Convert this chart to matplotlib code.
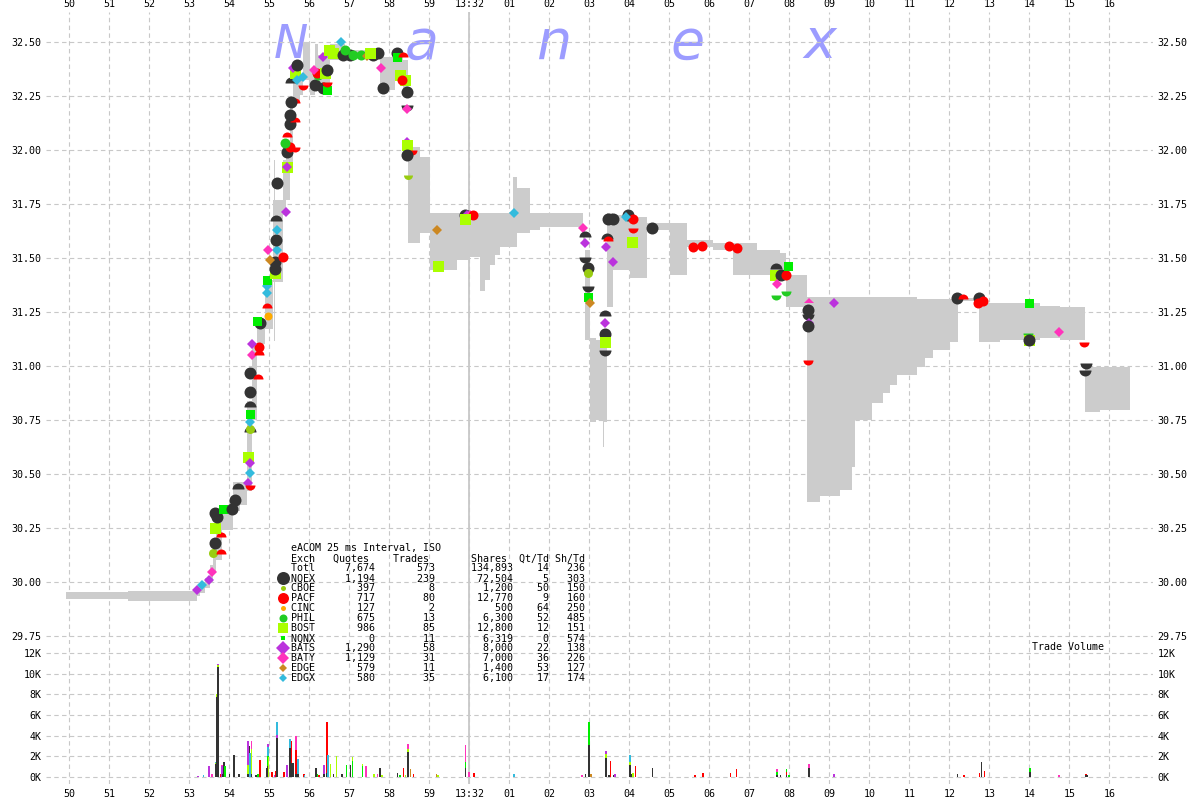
import matplotlib
matplotlib.use('Agg')
import matplotlib.pyplot as plt
from matplotlib.lines import Line2D

plt.rcParams['font.family'] = 'DejaVu Sans Mono'
plt.rcParams['font.size'] = 7.2

W, H = 1200, 800

# ---- exchange summary table ----
exch = ['NQEX', 'CBOE', 'PACF', 'CINC', 'PHIL', 'BOST', 'NQNX', 'BATS', 'BATY', 'EDGE', 'EDGX']
quotes = [1194, 397, 717, 127, 675, 986, 0, 1290, 1129, 579, 580]
trades = [239, 8, 80, 2, 13, 85, 11, 58, 31, 11, 35]
shares = [72504, 1200, 12770, 500, 6300, 12800, 6319, 8000, 7000, 1400, 6100]
qt_td = [5, 50, 9, 64, 52, 12, 0, 22, 36, 53, 17]
sh_td = [303, 150, 160, 250, 485, 151, 574, 138, 226, 127, 174]
total_row = ['Totl', 7674, 573, 134893, 14, 236]
table_title = 'eACOM 25 ms Interval, ISO'

colors = {'NQEX': '#333333', 'CBOE': '#99cc11', 'PACF': '#ff0000', 'CINC': '#ffaa00',
          'PHIL': '#22cc22', 'BOST': '#aaff00', 'NQNX': '#00ee00', 'BATS': '#bb33dd',
          'BATY': '#ff33bb', 'EDGE': '#cc8822', 'EDGX': '#33bbdd'}
shapes = {'NQEX': 'o', 'CBOE': 'o', 'PACF': 'o', 'CINC': 'o', 'PHIL': 'o', 'BOST': 's',
          'NQNX': 's', 'BATS': 'D', 'BATY': 'D', 'EDGE': 'D', 'EDGX': 'D'}
# marker size in pixels (chart / legend)
sizes = {'NQEX': 12, 'CBOE': 9, 'PACF': 10, 'CINC': 8, 'PHIL': 10, 'BOST': 11,
         'NQNX': 9, 'BATS': 10, 'BATY': 9, 'EDGE': 9, 'EDGX': 9}
leg_sizes = {'NQEX': 13, 'CBOE': 5, 'PACF': 11, 'CINC': 5, 'PHIL': 8, 'BOST': 10,
             'NQNX': 5, 'BATS': 13, 'BATY': 11, 'EDGE': 8, 'EDGX': 8}

# ---- axes ticks (time in seconds after 13:31:00) ----
xticks = [50, 51, 52, 53, 54, 55, 56, 57, 58, 59, 60, 61, 62, 63, 64, 65, 66, 67, 68,
          69, 70, 71, 72, 73, 74, 75, 76]
xlabels = ['50', '51', '52', '53', '54', '55', '56', '57', '58', '59', '13:32', '01', '02',
           '03', '04', '05', '06', '07', '08', '09', '10', '11', '12', '13', '14', '15', '16']
price_ticks = [29.75, 30.00, 30.25, 30.50, 30.75, 31.00, 31.25, 31.50, 31.75, 32.00, 32.25, 32.50]
vol_ticks = [0, 2, 4, 6, 8, 10, 12]

# ---- NBBO spread band (step, post) ----
band_t = [49.92, 51.47, 53.19, 53.275, 53.40, 53.525, 53.60, 53.675, 53.825, 54.10,
          54.275, 54.45, 54.575, 54.70, 54.90, 55.10, 55.125, 55.15, 55.35, 55.425,
          55.525, 55.60, 55.775, 55.85, 56.025, 56.15, 56.225, 56.525, 56.90, 57.775,
          58.15, 58.35, 58.475, 58.775, 59.025, 59.70, 60.025, 60.275, 60.40, 60.525,
          60.65, 60.775, 61.10, 61.20, 61.525, 61.775, 62.85, 62.90, 63.025, 63.175,
          63.35, 63.375, 63.45, 63.60, 64.025, 64.45, 65.025, 65.45, 66.10, 66.60,
          67.20, 67.775, 67.925, 68.45, 68.775, 69.275, 69.575, 69.65, 70.075, 70.35,
          70.525, 70.70, 71.20, 71.40, 71.60, 72.025, 72.225, 72.75, 73.275, 74.275,
          74.775, 75.40, 75.775, 76.525]
band_lo = [29.92, 29.91, 29.934, 29.95, 29.971, 29.994, 30.045, 30.10, 30.24, 30.33,
           30.355, 30.42, 30.75, 31.10, 31.17, 31.39, 31.115, 31.39, 31.70, 31.77,
           31.91, 32.23, 32.255, 32.325, 32.255, 32.30, 32.28, 32.42, 32.43, 32.28,
           32.35, 32.28, 31.57, 31.615, 31.445, 31.49, 31.505, 31.35, 31.40, 31.47,
           31.515, 31.55, 31.55, 31.615, 31.63, 31.645, 31.56, 31.12, 30.74, 30.75,
           30.625, 30.74, 31.275, 31.445, 31.41, 31.63, 31.42, 31.55, 31.54, 31.42,
           31.42, 31.445, 31.275, 30.37, 30.40, 30.425, 30.53, 30.75, 30.83, 30.875,
           30.91, 30.958, 30.995, 31.037, 31.075, 31.11, 31.30, 31.11, 31.12, 31.13,
           31.12, 30.785, 30.795, 30.795]
band_hi = [29.955, 29.96, 29.985, 29.994, 30.018, 30.078, 30.17, 30.31, 30.355, 30.462,
           30.462, 30.84, 31.10, 31.22, 31.40, 31.77, 31.955, 31.77, 31.955, 32.00,
           32.23, 32.37, 32.35, 32.50, 32.37, 32.49, 32.44, 32.49, 32.465, 32.43,
           32.44, 32.42, 32.015, 31.97, 31.71, 31.71, 31.71, 31.71, 31.71, 31.71,
           31.71, 31.71, 31.876, 31.825, 31.71, 31.71, 31.64, 31.54, 31.13, 31.12,
           31.12, 31.12, 31.71, 31.70, 31.69, 31.665, 31.665, 31.585, 31.57, 31.57,
           31.54, 31.525, 31.42, 31.32, 31.32, 31.32, 31.32, 31.32, 31.32, 31.32,
           31.32, 31.32, 31.31, 31.31, 31.31, 31.31, 31.315, 31.29, 31.29, 31.28,
           31.275, 30.995, 30.995, 30.995]

# ---- trades (o) and quotes (t = upper half, b = lower half) ----
mk_t = [53.20, 53.32, 53.48, 53.57, 53.60, 53.78, 53.65, 53.78, 53.65, 53.69,
        53.63, 53.85, 54.07, 54.15, 54.22, 54.47, 54.52, 54.47, 54.52, 54.52,
        54.52, 54.52, 54.52, 54.52, 54.52, 54.52, 54.52, 54.72, 54.57, 54.75,
        54.75, 54.57, 54.77, 54.69, 54.97, 54.95, 54.95, 54.95, 54.94, 55.15,
        55.15, 55.15, 55.35, 55.02, 55.19, 54.97, 55.17, 55.19, 55.17, 55.42,
        55.19, 55.44, 55.44, 55.44, 55.52, 55.65, 55.44, 55.40, 55.52, 55.65,
        55.52, 55.65, 55.54, 55.54, 55.65, 55.69, 55.59, 55.69, 55.85, 55.85,
        56.15, 56.22, 56.35, 56.44, 56.19, 56.12, 56.40, 56.44, 56.44, 56.35,
        56.60, 56.48, 56.78, 56.85, 57.02, 57.10, 57.28, 56.90, 57.44, 57.60,
        57.72, 57.52, 57.78, 57.85, 58.19, 58.19, 58.35, 58.27, 58.40, 58.32,
        58.44, 58.44, 58.44, 58.44, 58.44, 58.57, 58.44, 58.46, 59.18, 59.22,
        59.90, 59.95, 60.02, 60.10, 59.90, 61.11, 62.84, 62.90, 62.90, 62.90,
        62.97, 62.97, 62.97, 62.97, 63.02, 63.40, 63.40, 63.40, 63.40, 63.40,
        63.44, 63.47, 63.42, 63.60, 63.47, 63.60, 63.97, 64.10, 64.10, 64.07,
        63.92, 64.57, 65.60, 65.82, 66.50, 66.69, 67.67, 67.65, 67.78, 67.92,
        67.97, 67.68, 67.67, 67.92, 68.48, 68.47, 68.47, 68.48, 68.47, 68.47,
        69.11, 72.19, 72.34, 72.75, 72.85, 72.72, 73.99, 73.97, 73.98, 73.98,
        74.73, 75.37, 75.42, 75.40]
mk_p = [29.962, 29.985, 30.008, 30.045, 30.132, 30.13, 30.18, 30.21, 30.25, 30.30,
        30.32, 30.34, 30.34, 30.38, 30.43, 30.46, 30.45, 30.58, 30.55, 30.505,
        30.695, 30.71, 30.74, 30.78, 30.81, 30.88, 30.97, 30.94, 31.05, 31.05,
        31.09, 31.10, 31.20, 31.21, 31.23, 31.27, 31.34, 31.37, 31.40, 31.43,
        31.45, 31.48, 31.505, 31.49, 31.54, 31.54, 31.585, 31.63, 31.67, 31.715,
        31.85, 31.92, 31.92, 31.99, 32.015, 32.015, 32.06, 32.035, 32.12, 32.13,
        32.165, 32.22, 32.225, 32.31, 32.36, 32.325, 32.38, 32.395, 32.34, 32.30,
        32.30, 32.35, 32.29, 32.28, 32.36, 32.37, 32.36, 32.315, 32.37, 32.43,
        32.45, 32.465, 32.50, 32.44, 32.44, 32.44, 32.44, 32.465, 32.435, 32.44,
        32.45, 32.45, 32.38, 32.29, 32.45, 32.43, 32.43, 32.35, 32.325, 32.325,
        32.27, 32.21, 32.19, 32.04, 32.025, 32.00, 31.98, 31.885, 31.63, 31.465,
        31.70, 31.70, 31.70, 31.70, 31.68, 31.71, 31.64, 31.60, 31.57, 31.505,
        31.455, 31.43, 31.37, 31.32, 31.29, 31.23, 31.20, 31.15, 31.11, 31.075,
        31.59, 31.58, 31.55, 31.48, 31.68, 31.68, 31.70, 31.68, 31.64, 31.575,
        31.69, 31.64, 31.55, 31.555, 31.555, 31.545, 31.45, 31.42, 31.42, 31.42,
        31.465, 31.38, 31.33, 31.35, 31.29, 31.26, 31.24, 31.20, 31.185, 31.03,
        31.29, 31.315, 31.31, 31.315, 31.30, 31.29, 31.29, 31.155, 31.12, 31.12,
        31.16, 31.11, 31.015, 30.98]
mk_ex = ['BATS', 'EDGX', 'BATS', 'BATY', 'CBOE', 'PACF', 'NQEX', 'PACF', 'BOST', 'NQEX',
         'NQEX', 'NQNX', 'NQEX', 'NQEX', 'NQEX', 'BATS', 'PACF', 'BOST', 'BATS', 'EDGX',
         'NQEX', 'CBOE', 'EDGX', 'NQNX', 'NQEX', 'NQEX', 'NQEX', 'PACF', 'BATY', 'PACF',
         'PACF', 'BATS', 'NQEX', 'NQNX', 'CINC', 'PACF', 'EDGX', 'EDGX', 'NQNX', 'BOST',
         'NQEX', 'NQEX', 'PACF', 'EDGE', 'EDGX', 'BATY', 'NQEX', 'EDGX', 'NQEX', 'BATS',
         'NQEX', 'BOST', 'BATS', 'NQEX', 'PACF', 'PACF', 'PACF', 'PHIL', 'NQEX', 'PACF',
         'NQEX', 'PACF', 'NQEX', 'NQEX', 'BOST', 'EDGX', 'BATS', 'NQEX', 'EDGX', 'PACF',
         'NQEX', 'PHIL', 'NQEX', 'NQNX', 'PACF', 'BATY', 'BOST', 'PACF', 'NQEX', 'BATS',
         'BOST', 'BOST', 'EDGX', 'NQEX', 'NQEX', 'PHIL', 'PHIL', 'PHIL', 'EDGE', 'NQEX',
         'NQEX', 'BOST', 'BATY', 'NQEX', 'NQEX', 'NQNX', 'PACF', 'BOST', 'BOST', 'PACF',
         'NQEX', 'NQEX', 'BATY', 'BATS', 'BOST', 'PACF', 'NQEX', 'CBOE', 'EDGE', 'BOST',
         'NQEX', 'BATS', 'BATY', 'PACF', 'BOST', 'EDGX', 'BATY', 'NQEX', 'BATS', 'NQEX',
         'NQEX', 'CBOE', 'NQEX', 'NQNX', 'EDGE', 'NQEX', 'BATS', 'NQEX', 'BOST', 'NQEX',
         'NQEX', 'PACF', 'BATS', 'BATS', 'NQEX', 'NQEX', 'NQEX', 'PACF', 'PACF', 'BOST',
         'EDGX', 'NQEX', 'PACF', 'PACF', 'PACF', 'PACF', 'NQEX', 'BOST', 'NQEX', 'PACF',
         'NQNX', 'BATY', 'PHIL', 'PHIL', 'BATY', 'NQEX', 'NQEX', 'BATS', 'NQEX', 'PACF',
         'BATS', 'NQEX', 'PACF', 'NQEX', 'PACF', 'PACF', 'NQNX', 'PHIL', 'BOST', 'NQEX',
         'BATY', 'PACF', 'NQEX', 'NQEX']
mk_kind = ['o', 'o', 'o', 'o', 'o', 't', 'o', 't', 'o', 'o',
           'o', 'o', 'o', 'o', 't', 'o', 'b', 'o', 'o', 'o',
           't', 'o', 'o', 'o', 't', 'o', 'o', 't', 'o', 't',
           'o', 'o', 'o', 'o', 'o', 't', 'o', 'o', 'o', 'o',
           'o', 'o', 'o', 'o', 'o', 'o', 'o', 'o', 't', 'o',
           'o', 'o', 'o', 'o', 'o', 'b', 't', 'o', 'o', 't',
           'o', 't', 'o', 't', 'o', 'o', 'o', 'o', 'o', 'b',
           'o', 'o', 'o', 'o', 'o', 'o', 'o', 'b', 'o', 'o',
           'o', 'o', 'o', 'o', 'o', 'o', 'o', 'o', 'o', 'o',
           'o', 'o', 'o', 'o', 'o', 'o', 't', 'o', 'o', 'o',
           'o', 'b', 'o', 'o', 'o', 'b', 'o', 'b', 'o', 'o',
           'o', 'o', 'o', 'o', 'o', 'o', 'o', 't', 'o', 'b',
           'o', 'o', 'b', 'o', 'o', 't', 'o', 'o', 'o', 'b',
           't', 't', 'o', 'o', 'o', 'o', 'o', 'o', 'b', 'o',
           'o', 'o', 'o', 'o', 'o', 'o', 't', 'o', 'o', 'o',
           'o', 'o', 'b', 'b', 't', 'o', 'b', 'o', 'o', 'b',
           'o', 'o', 't', 'o', 'o', 'o', 'o', 'b', 'o', 'o',
           'o', 'b', 'b', 'b']

# ---- trade volume (thousands of shares), stacked per 25 ms bucket ----
vol_t = [53.22, 53.35, 53.49, 53.57, 53.66, 53.66, 53.66, 53.68, 53.68, 53.71,
         53.71, 53.71, 53.78, 53.81, 53.81, 53.83, 53.87, 53.89, 54.00, 54.11,
         54.13, 54.24, 54.47, 54.47, 54.47, 54.50, 54.52, 54.55, 54.55, 54.55,
         54.66, 54.72, 54.76, 54.93, 54.96, 54.96, 54.96, 54.96, 54.98, 55.07,
         55.14, 55.16, 55.19, 55.19, 55.19, 55.36, 55.44, 55.51, 55.51, 55.55,
         55.55, 55.59, 55.67, 55.67, 55.67, 55.71, 55.71, 55.86, 55.88, 56.17,
         56.20, 56.24, 56.36, 56.36, 56.44, 56.44, 56.47, 56.53, 56.60, 56.68,
         56.82, 56.93, 57.03, 57.08, 57.08, 57.33, 57.33, 57.42, 57.62, 57.70,
         57.76, 57.82, 58.20, 58.26, 58.35, 58.40, 58.46, 58.46, 58.46, 58.53,
         58.60, 59.18, 59.22, 59.90, 59.90, 59.90, 59.99, 60.12, 61.11, 62.82,
         62.90, 62.99, 62.99, 63.04, 63.41, 63.41, 63.41, 63.49, 63.53, 63.60,
         63.64, 64.01, 64.01, 64.01, 64.06, 64.09, 64.15, 64.58, 65.64, 65.84,
         66.53, 66.68, 67.69, 67.69, 67.69, 67.78, 67.93, 67.93, 67.93, 67.99,
         68.49, 68.49, 69.11, 72.20, 72.36, 72.75, 72.80, 72.88, 74.01, 74.01,
         74.74, 75.41, 75.41, 75.45]
vol_ex = ['BATS', 'EDGX', 'BATS', 'BATY', 'NQEX', 'BOST', 'EDGX', 'NQEX', 'BOST', 'NQEX',
          'BOST', 'BATS', 'PACF', 'BATS', 'BATY', 'NQEX', 'NQEX', 'NQNX', 'NQEX', 'NQEX',
          'NQEX', 'NQEX', 'NQEX', 'BOST', 'BATS', 'NQEX', 'EDGX', 'NQEX', 'BOST', 'BATY',
          'NQEX', 'NQNX', 'PACF', 'NQEX', 'NQEX', 'NQNX', 'EDGX', 'BATS', 'BOST', 'PACF',
          'BATS', 'PACF', 'NQEX', 'BATS', 'EDGX', 'PACF', 'BATS', 'NQEX', 'EDGX', 'NQEX',
          'PACF', 'NQEX', 'NQEX', 'PACF', 'BATY', 'NQEX', 'EDGX', 'PACF', 'EDGX', 'NQEX',
          'NQNX', 'PACF', 'NQEX', 'BATS', 'NQEX', 'PACF', 'EDGX', 'BOST', 'NQEX', 'BOST',
          'NQEX', 'NQNX', 'NQEX', 'NQNX', 'BOST', 'NQNX', 'BOST', 'BATY', 'BOST', 'BATY',
          'NQEX', 'BOST', 'NQEX', 'NQNX', 'PACF', 'BOST', 'NQEX', 'BOST', 'BATY', 'EDGE',
          'PACF', 'EDGE', 'BOST', 'NQEX', 'NQNX', 'BATY', 'BATY', 'PACF', 'EDGX', 'BATY',
          'NQEX', 'NQEX', 'NQNX', 'EDGE', 'NQEX', 'BOST', 'BATS', 'NQEX', 'PACF', 'NQEX',
          'BATS', 'NQEX', 'BOST', 'EDGX', 'NQEX', 'BOST', 'PACF', 'NQEX', 'PACF', 'PACF',
          'PACF', 'PACF', 'NQEX', 'NQNX', 'BATY', 'NQEX', 'NQEX', 'PACF', 'NQNX', 'NQNX',
          'NQEX', 'BATY', 'BATS', 'NQEX', 'PACF', 'PACF', 'NQEX', 'PACF', 'NQEX', 'NQNX',
          'BATY', 'NQEX', 'PACF', 'NQEX']
vol_k = [0.1, 0.15, 1.0, 0.25, 1.2, 0.1, 0.1, 7.7, 0.3, 10.7,
         0.2, 0.1, 0.3, 1.0, 0.1, 0.3, 1.4, 1.0, 0.3, 2.1,
         0.6, 0.3, 0.3, 0.8, 2.4, 3.0, 2.3, 0.3, 2.4, 0.8,
         0.2, 0.3, 1.6, 0.8, 1.0, 1.0, 0.9, 0.3, 1.9, 0.5,
         0.2, 0.6, 3.8, 0.3, 1.2, 0.5, 1.1, 2.8, 0.9, 1.3,
         2.2, 1.3, 0.3, 2.3, 1.4, 0.3, 1.4, 0.3, 0.2, 0.8,
         0.3, 0.2, 0.3, 0.8, 0.4, 4.9, 2.1, 1.2, 0.3, 2.0,
         0.3, 1.1, 1.1, 1.5, 0.4, 1.0, 0.2, 1.0, 0.3, 0.3,
         0.8, 0.2, 0.4, 0.2, 0.8, 0.2, 2.4, 0.3, 0.5, 0.7,
         0.3, 0.3, 0.2, 0.8, 0.6, 1.7, 0.5, 0.4, 0.3, 0.2,
         0.3, 3.1, 2.2, 0.3, 1.8, 0.4, 0.3, 0.2, 1.5, 0.2,
         0.3, 1.1, 0.3, 0.7, 0.3, 0.4, 1.0, 0.8, 0.2, 0.4,
         0.4, 0.7, 0.2, 0.3, 0.2, 0.2, 0.2, 0.3, 0.2, 0.2,
         0.8, 0.4, 0.3, 0.3, 0.2, 0.4, 1.4, 0.6, 0.5, 0.3,
         0.2, 0.2, 0.1, 0.2]

watermark = ['N', 'a', 'n', 'e', 'x']

# ---------------------------------------------------------------
GRID = dict(color='#c8c8c8', linestyle=(0, (4, 3)), linewidth=0.8)
PX = 0.72  # points per pixel at dpi 100

fig = plt.figure(figsize=(12, 8), dpi=100)
ax = fig.add_axes([46 / W, 1 - 644 / H, 1107 / W, 632 / H])
axv = fig.add_axes([46 / W, 1 - 784 / H, 1107 / W, 140 / H], sharex=ax)

for a in (ax, axv):
    a.patch.set_visible(False)
    for s in a.spines.values():
        s.set_visible(False)
    a.grid(True, **GRID)
    a.set_axisbelow(True)
    a.axvline(60, color='#c8c8c8', lw=1.3, zorder=1)

ax.set_xlim(49.4175, 77.0925)
ax.set_ylim(29.7122, 32.6404)
axv.set_ylim(-0.71, 12.9)

ax.set_xticks(xticks)
ax.set_xticklabels(xlabels)
axv.set_xticks(xticks)
axv.set_xticklabels(xlabels)
ax.set_yticks(price_ticks)
ax.set_yticklabels(['%.2f' % v for v in price_ticks])
axv.set_yticks(vol_ticks)
axv.set_yticklabels(['%dK' % v for v in vol_ticks])

ax.tick_params(axis='x', top=True, labeltop=True, bottom=False, labelbottom=False,
               length=0, pad=2.2)
axv.tick_params(axis='x', top=False, labeltop=False, bottom=True, labelbottom=True,
                length=0, pad=3.6)
for a in (ax, axv):
    a.tick_params(axis='y', left=True, right=True, labelleft=True, labelright=True,
                  length=0, pad=3.2)

# watermark
wm_px = [291, 422, 554, 688, 820]
for ch, px in zip(watermark, wm_px):
    ax.text(px / W, 1 - 58.5 / H, ch, transform=fig.transFigure, ha='center',
            va='baseline', fontsize=33 if ch == 'N' else 40, style='italic',
            family='DejaVu Sans', color='#9c9cff', zorder=0.5)

# spread band
ax.fill_between(band_t, band_lo, band_hi, step='post', color='#cccccc', lw=0, zorder=1)

# trades / quotes markers
fills = {'o': 'full', 't': 'top', 'b': 'bottom'}
for t, p, ex, k in zip(mk_t, mk_p, mk_ex, mk_kind):
    ms = sizes[ex] * PX
    if shapes[ex] == 'D':
        ms = ms / 1.414
    ax.plot([t], [p], ls='none', marker=shapes[ex], ms=ms, color=colors[ex],
            fillstyle=fills[k], markerfacecoloralt='none', mew=0, zorder=3)

# stacked volume bars
stack = {}
bottoms = []
for t, k in zip(vol_t, vol_k):
    b = stack.get(t, 0.0)
    bottoms.append(b)
    stack[t] = b + k
axv.bar(vol_t, vol_k, bottom=bottoms, width=0.04, color=[colors[e] for e in vol_ex],
        lw=0, zorder=3)
fig.text(1032 / W, 1 - 647 / H, 'Trade Volume', ha='left', va='center')

# summary table
tx = 290.7
fig.text(tx / W, 1 - 548.3 / H, table_title, ha='left', va='center')
fig.text(tx / W, 1 - 558.3 / H, 'Exch   Quotes    Trades       Shares  Qt/Td Sh/Td',
         ha='left', va='center')
rows = [total_row] + [[e, q, tr, sh, qt, st] for e, q, tr, sh, qt, st in
                      zip(exch, quotes, trades, shares, qt_td, sh_td)]
for i, r in enumerate(rows):
    y = 568.3 + 10 * i
    line = '%-4s%10s%10s%13s%6s%6s' % (r[0], format(r[1], ','), format(r[2], ','),
                                       format(r[3], ','), r[4], r[5])
    fig.text(tx / W, 1 - y / H, line, ha='left', va='center')
    if i > 0:
        ex = r[0]
        ms = leg_sizes[ex] * PX
        if shapes[ex] == 'D':
            ms = ms / 1.414
        fig.add_artist(Line2D([282.7 / W], [1 - y / H], transform=fig.transFigure,
                              ls='none', marker=shapes[ex], ms=ms, color=colors[ex],
                              mew=0, zorder=5))

fig.savefig('out.png', dpi=100)
